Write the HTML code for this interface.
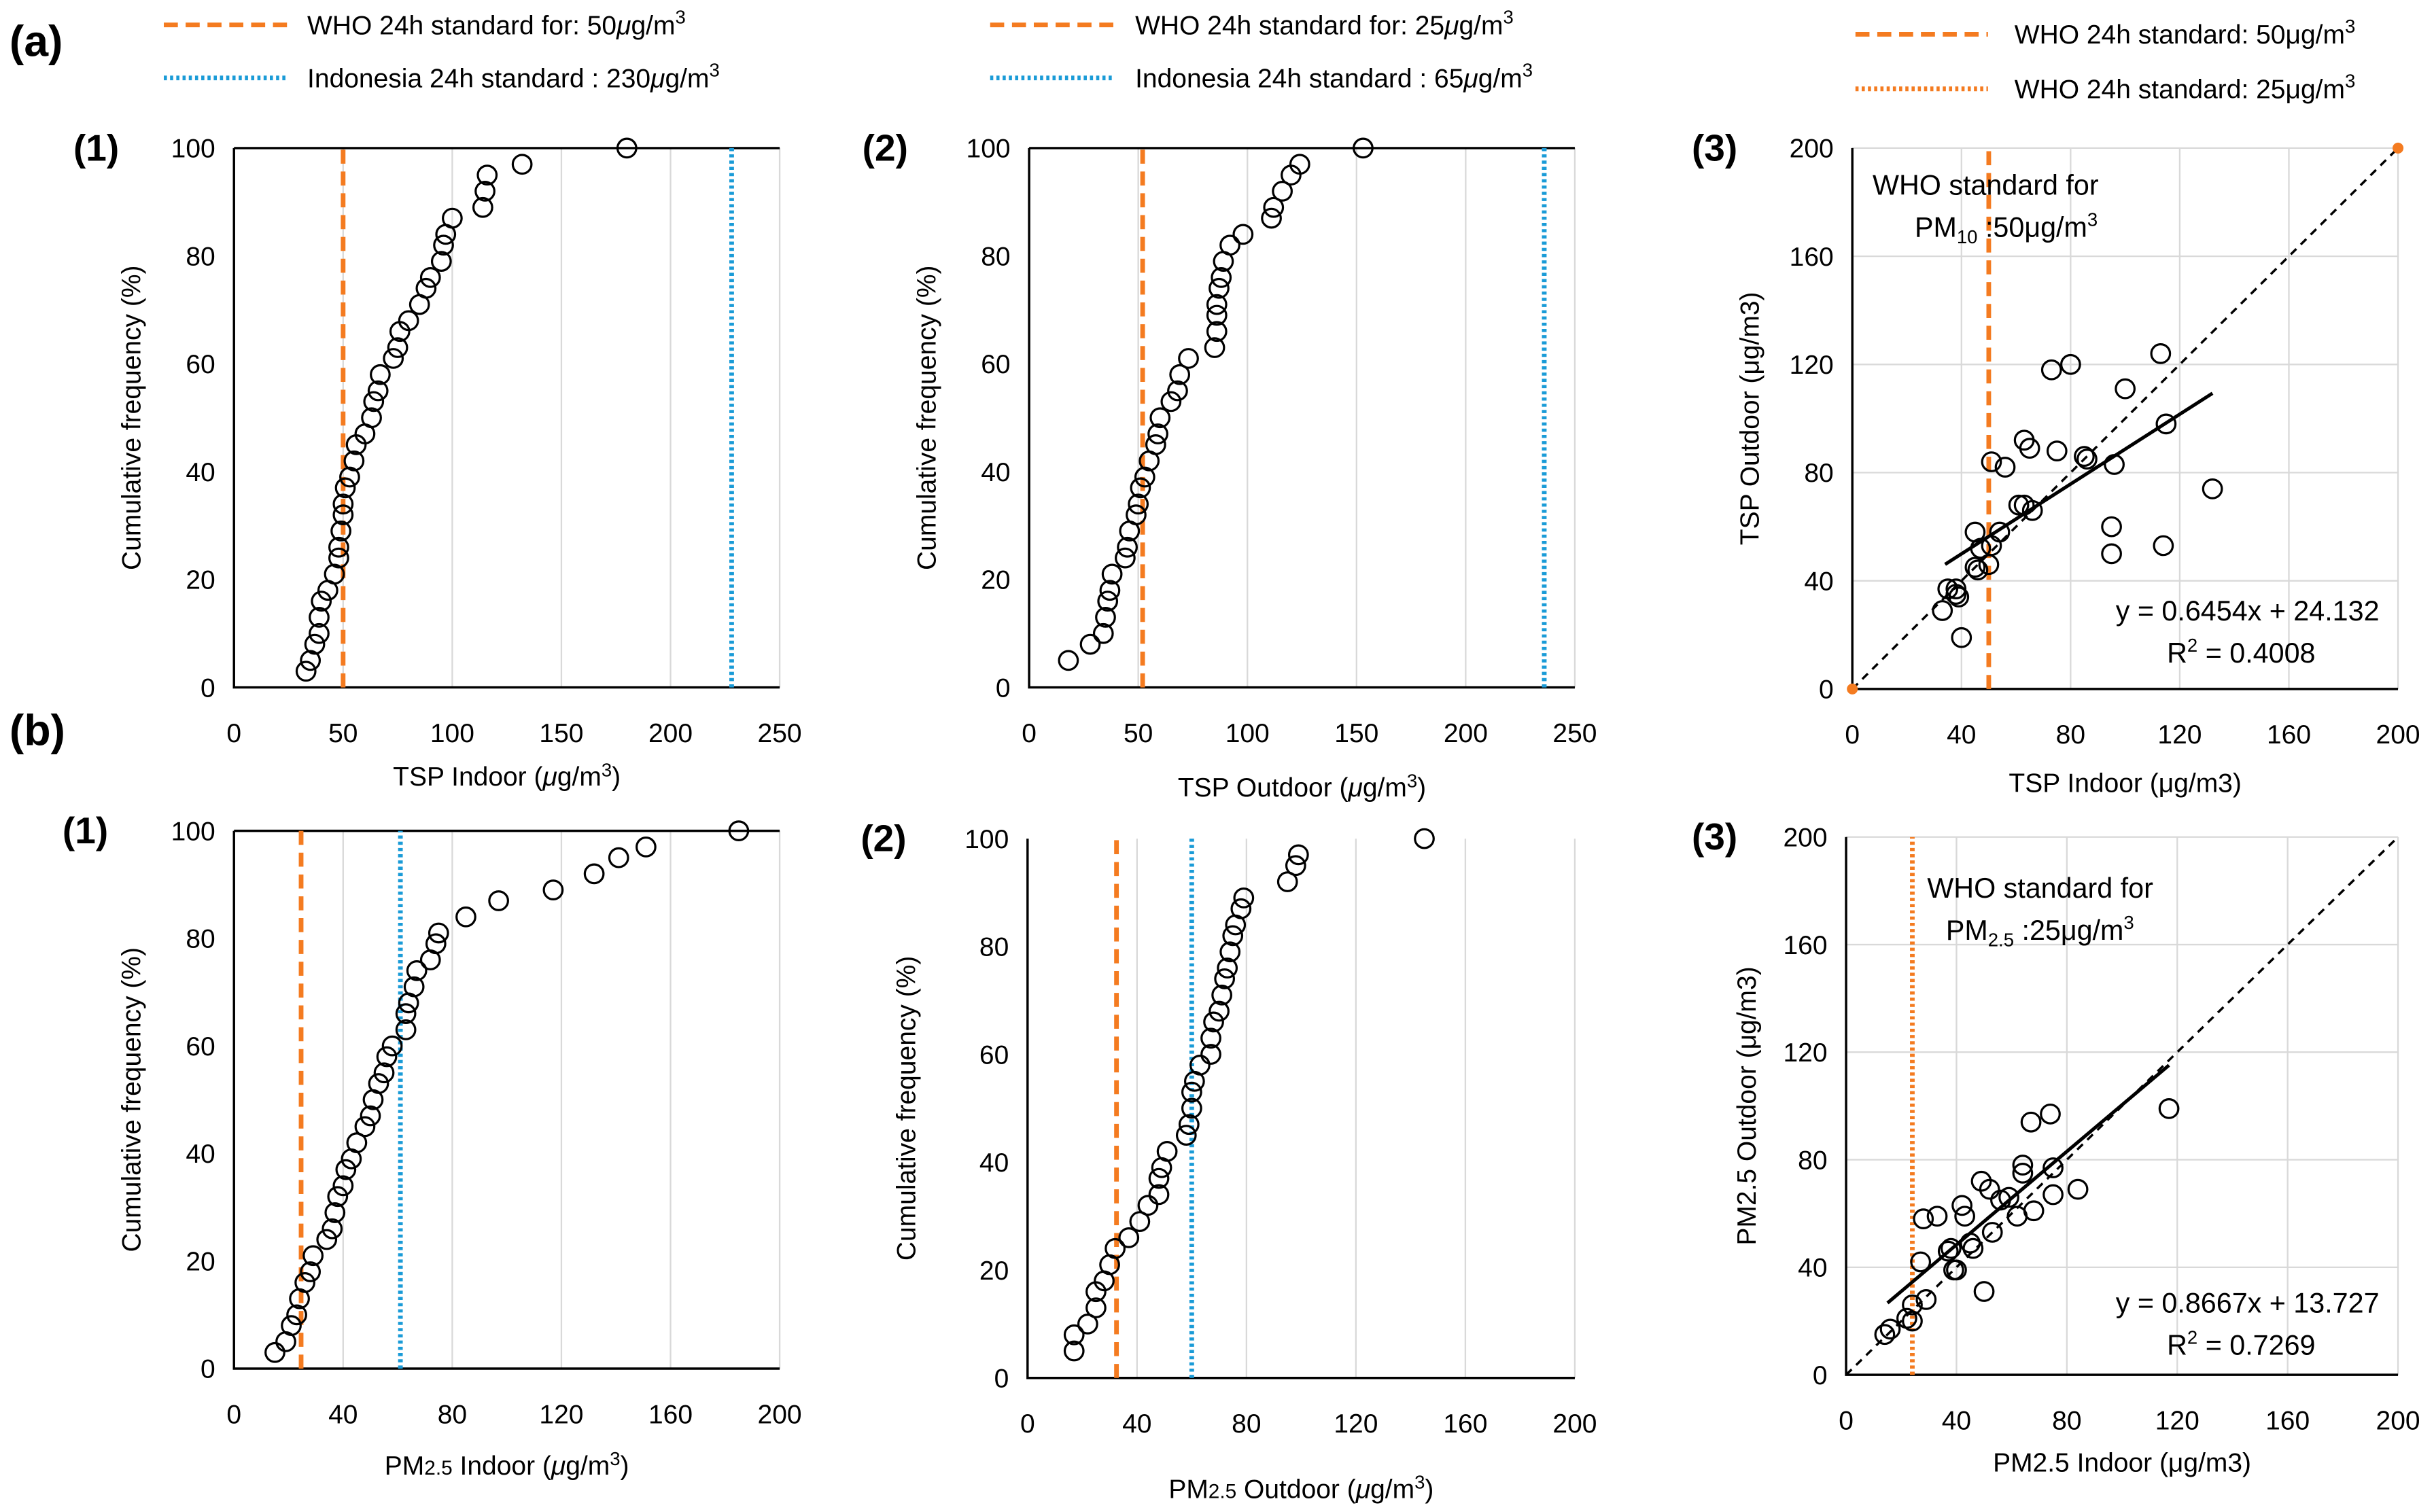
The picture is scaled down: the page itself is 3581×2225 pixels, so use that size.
<!DOCTYPE html>
<html><head><meta charset="utf-8">
<style>
html,body{margin:0;padding:0;background:#fff;}
svg{display:block;font-family:"Liberation Sans","DejaVu Sans",sans-serif;}
</style></head>
<body>
<svg id="root" width="3581" height="2225" viewBox="0 0 1561 970" xmlns="http://www.w3.org/2000/svg">
<rect width="1561" height="970" fill="#fff"/>
<g font-size="28" font-weight="bold">
<text x="6" y="36">(a)</text>
<text x="6" y="478">(b)</text>
</g>
<g font-size="17">
<line x1="105" y1="16" x2="185" y2="16" stroke="#f47b20" stroke-width="3" stroke-dasharray="9,5"/>
<text x="197" y="22">WHO 24h standard for: 50<tspan font-style="italic">μ</tspan>g/m<tspan dy="-7" font-size="12">3</tspan></text>
<line x1="105" y1="50" x2="185" y2="50" stroke="#1a9bd7" stroke-width="3" stroke-dasharray="2,2"/>
<text x="197" y="56">Indonesia 24h standard : 230<tspan font-style="italic">μ</tspan>g/m<tspan dy="-7" font-size="12">3</tspan></text>
</g>
<g font-size="17">
<line x1="635" y1="16" x2="715" y2="16" stroke="#f47b20" stroke-width="3" stroke-dasharray="9,5"/>
<text x="728" y="22">WHO 24h standard for: 25<tspan font-style="italic">μ</tspan>g/m<tspan dy="-7" font-size="12">3</tspan></text>
<line x1="635" y1="50" x2="715" y2="50" stroke="#1a9bd7" stroke-width="3" stroke-dasharray="2,2"/>
<text x="728" y="56">Indonesia 24h standard : 65<tspan font-style="italic">μ</tspan>g/m<tspan dy="-7" font-size="12">3</tspan></text>
</g>
<g font-size="17">
<line x1="1190" y1="22" x2="1275" y2="22" stroke="#f47b20" stroke-width="3" stroke-dasharray="9,5"/>
<text x="1292" y="28">WHO 24h standard: 50μg/m<tspan dy="-7" font-size="12">3</tspan></text>
<line x1="1190" y1="57" x2="1275" y2="57" stroke="#f47b20" stroke-width="3" stroke-dasharray="2,2"/>
<text x="1292" y="63">WHO 24h standard: 25μg/m<tspan dy="-7" font-size="12">3</tspan></text>
</g>
<g id="charts"></g>
</svg>
<script>
// ---- data ----
const a1X=[33,35,37,39,39,40,43,46,48,48,49,50,50,51,53,55,56,60,63,64,66,67,73,75,76,80,85,88,90,95,96,97,100,114,115,116,132,180];
const a1Y=[3,5,8,10,13,16,18,21,24,26,29,32,34,37,39,42,45,47,50,53,55,58,61,63,66,68,71,74,76,79,82,84,87,89,92,95,97,100];
const a2X=[18,28,34,35,36,37,38,44,45,46,49,50,51,53,55,58,59,60,65,68,69,73,85,86,86,86,87,88,89,92,98,111,112,116,120,124,153];
const a2Y=[5,8,10,13,16,18,21,24,26,29,32,34,37,39,42,45,47,50,53,55,58,61,63,66,69,71,74,76,79,82,84,87,89,92,95,97,100];
const b1X=[15,19,21,23,24,26,28,29,34,36,37,38,40,41,43,45,48,50,51,53,55,56,58,63,63,64,66,67,72,74,75,85,97,117,132,141,151,185];
const b1Y=[3,5,8,10,13,16,18,21,24,26,29,32,34,37,39,42,45,47,50,53,55,58,60,63,66,68,71,74,76,79,81,84,87,89,92,95,97,100];
const b2X=[17,17,22,25,25,28,30,32,37,41,44,48,48,49,51,58,59,60,60,61,63,67,67,68,70,71,72,73,74,75,76,78,79,95,98,99,145];
const b2Y=[5,8,10,13,16,18,21,24,26,29,32,34,37,39,42,45,47,50,53,55,58,60,63,66,68,71,74,76,79,82,84,87,89,92,95,97,100];
const a3X=[33,35,38,39,38,40,45,45,47,46,51,50,51,54,56,61,63,66,63,65,73,75,80,85,86,95,95,96,100,113,114,115,132];
const a3Y=[29,37,35,34,37,19,58,45,52,44,53,46,84,58,82,68,68,66,92,89,118,88,120,86,85,60,50,83,111,124,53,98,74];
const b3X=[14,16,22,24,24,27,28,29,33,37,38,39,40,42,43,45,46,49,50,52,53,56,59,62,64,64,67,68,74,75,75,84,117];
const b3Y=[15,17,21,20,26,42,58,28,59,46,47,39,39,63,59,49,47,72,31,69,53,65,66,59,75,78,94,61,97,77,67,69,99];
const xT250=[0,50,100,150,200,250];
const xT200=[0,40,80,120,160,200];
const xT200b=[0,40,80,120,160,200];
const yT100=[0,20,40,60,80,100];
const yT200=[0,40,80,120,160,200];

const NS="http://www.w3.org/2000/svg";
const root=document.getElementById('charts');
function mk(tag,parent,attrs){const e=document.createElementNS(NS,tag);for(const k in attrs)e.setAttribute(k,attrs[k]);parent.appendChild(e);return e;}

function panel(o){
  const g=mk('g',root,{});
  
  
  const sx=v=>o.x0+(v-o.xmin)/(o.xmax-o.xmin)*(o.x1-o.x0);
  const sy=v=>o.y0-(v-o.ymin)/(o.ymax-o.ymin)*(o.y0-o.y1);
  o.xt.forEach(t=>{if(t>o.xmin){const l=mk('line',g,{x1:sx(t),x2:sx(t),y1:o.y0,y2:o.y1,stroke:'#d9d9d9','stroke-width':1});
    
    }});
  if(o.hgrid) o.yt.forEach(t=>{if(t>o.ymin){const l=mk('line',g,{x1:o.x0,x2:o.x1,y1:sy(t),y2:sy(t),stroke:'#d9d9d9','stroke-width':1});
    
    }});
  if(o.topline){const l=mk('line',g,{x1:o.x0,x2:o.x1,y1:o.y1,y2:o.y1,stroke:'#000','stroke-width':1.5});
    
    }
  const ax=mk('path',g,{d:`M${o.x0},${o.y1}V${o.y0}H${o.x1}`,fill:'none',stroke:'#000','stroke-width':1.5});
  
  
  o.xt.forEach(t=>{const e=mk('text',g,{x:sx(t),y:o.y0+35,'text-anchor':'middle','font-size':17});e.textContent=t;
    
    });
  o.yt.forEach(t=>{const e=mk('text',g,{x:o.x0-12,y:sy(t)+6,'text-anchor':'end','font-size':17});e.textContent=t;
    
    });
  const xt=mk('text',g,{x:(o.x0+o.x1)/2,y:o.y0+o.xtOff,'text-anchor':'middle','font-size':17});xt.innerHTML=o.xtitle;
  
  
  const yt=mk('text',g,{x:0,y:0,'text-anchor':'middle','font-size':17,transform:`translate(${o.x0-o.ytOff},${(o.y0+o.y1)/2}) rotate(-90)`});yt.innerHTML=o.ytitle;
  
  
  const pl=mk('text',g,{x:o.plx,y:o.y1+8,'font-size':24,'font-weight':'bold'});pl.textContent=o.plabel;
  
  
  (o.vlines||[]).forEach(v=>{const l=mk('line',g,{x1:sx(v.x),x2:sx(v.x),y1:o.y0,y2:o.y1,stroke:v.c,'stroke-width':3,'stroke-dasharray':v.d});
    
    });
  if(o.diag){const l=mk('line',g,{x1:sx(0),y1:sy(0),x2:sx(200),y2:sy(200),stroke:'#000','stroke-width':1.5,'stroke-dasharray':'5,4'});
    
    }
  if(o.fit){const f=o.fit;const l=mk('line',g,{x1:sx(f.a),y1:sy(f.m*f.a+f.b),x2:sx(f.z),y2:sy(f.m*f.z+f.b),stroke:'#000','stroke-width':2.2});
    
    }
  o.X.forEach((x,i)=>{const c=mk('circle',g,{cx:sx(x),cy:sy(o.Y[i]),r:6,fill:'none',stroke:'#000','stroke-width':1.4});
    
    });
  return {g,sx,sy};
}
const lab='<tspan font-style="italic">μ</tspan>g/m<tspan dy="-6" font-size="12">3</tspan><tspan dy="6">)</tspan>';
panel({name:'panel-a1',x0:150,x1:500,y0:441,y1:95,xmin:0,xmax:250,ymin:0,ymax:100,xt:xT250,yt:yT100,topline:true,
  xtitle:'TSP Indoor ('+lab,ytitle:'Cumulative frequency (%)',xtOff:63,ytOff:60,plabel:'(1)',plx:47,X:a1X,Y:a1Y,
  vlines:[{x:50,c:'#f47b20',d:'9,5',n:'who-line'},{x:228,c:'#1a9bd7',d:'2,2',n:'indonesia-line'}]});
panel({name:'panel-a2',x0:660,x1:1010,y0:441,y1:95,xmin:0,xmax:250,ymin:0,ymax:100,xt:xT250,yt:yT100,topline:true,
  xtitle:'TSP Outdoor ('+lab,ytitle:'Cumulative frequency (%)',xtOff:70,ytOff:60,plabel:'(2)',plx:553,X:a2X,Y:a2Y,
  vlines:[{x:52,c:'#f47b20',d:'9,5',n:'who-line'},{x:236,c:'#1a9bd7',d:'2,2',n:'indonesia-line'}]});
const p3=panel({name:'panel-a3',x0:1188,x1:1538,y0:442,y1:95,xmin:0,xmax:200,ymin:0,ymax:200,xt:xT200,yt:yT200,hgrid:true,
  xtitle:'TSP Indoor (μg/m3)',ytitle:'TSP Outdoor (μg/m3)',xtOff:66,ytOff:60,plabel:'(3)',plx:1085,X:a3X,Y:a3Y,diag:true,
  fit:{m:0.6454,b:24.132,a:34,z:132},vlines:[{x:50,c:'#f47b20',d:'9,5',n:'who-line'}]});
[[1188,442],[1538,95]].forEach(p=>{const c=mk('circle',p3.g,{cx:p[0],cy:p[1],r:3.5,fill:'#f47b20'});
  
  });
panel({name:'panel-b1',x0:150,x1:500,y0:878,y1:533,xmin:0,xmax:200,ymin:0,ymax:100,xt:xT200b,yt:yT100,topline:true,
  xtitle:'PM<tspan font-size="13">2.5</tspan> Indoor ('+lab,ytitle:'Cumulative frequency (%)',xtOff:68,ytOff:60,plabel:'(1)',plx:40,X:b1X,Y:b1Y,
  vlines:[{x:24.6,c:'#f47b20',d:'9,5',n:'who-line'},{x:61,c:'#1a9bd7',d:'2,2',n:'indonesia-line'}]});
panel({name:'panel-b2',x0:659,x1:1010,y0:884,y1:538,xmin:0,xmax:200,ymin:0,ymax:100,xt:xT200b,yt:yT100,topline:false,
  xtitle:'PM<tspan font-size="13">2.5</tspan> Outdoor ('+lab,ytitle:'Cumulative frequency (%)',xtOff:77,ytOff:72,plabel:'(2)',plx:552,X:b2X,Y:b2Y,
  vlines:[{x:32.5,c:'#f47b20',d:'9,5',n:'who-line'},{x:60,c:'#1a9bd7',d:'2,2',n:'indonesia-line'}]});
panel({name:'panel-b3',x0:1184,x1:1538,y0:882,y1:537,xmin:0,xmax:200,ymin:0,ymax:200,xt:xT200,yt:yT200,hgrid:true,
  xtitle:'PM2.5 Indoor (μg/m3)',ytitle:'PM2.5 Outdoor (μg/m3)',xtOff:62,ytOff:58,plabel:'(3)',plx:1085,X:b3X,Y:b3Y,diag:true,
  fit:{m:0.8667,b:13.727,a:15,z:117},vlines:[{x:24,c:'#f47b20',d:'2,2',n:'who-line'}]});
function txt(x,y,html,name,anchor){const e=mk('text',root,{x:x,y:y,'font-size':18,'text-anchor':anchor||'start'});e.innerHTML=html;
  
  }
txt(1201,125,'WHO standard for','who-note-a3');
txt(1228,152,'PM<tspan font-size="12" dy="4">10</tspan><tspan dy="-4"> :50μg/m</tspan><tspan dy="-7" font-size="12">3</tspan>','who-note-a3-line2');
txt(1526,398,'y = 0.6454x + 24.132','equation-a3','end');
txt(1485,425,'R<tspan dy="-7" font-size="12">2</tspan><tspan dy="7"> = 0.4008</tspan>','r2-a3','end');
txt(1236,576,'WHO standard for','who-note-b3');
txt(1248,603,'PM<tspan font-size="12" dy="4">2.5</tspan><tspan dy="-4"> :25μg/m</tspan><tspan dy="-7" font-size="12">3</tspan>','who-note-b3-line2');
txt(1526,842,'y = 0.8667x + 13.727','equation-b3','end');
txt(1485,869,'R<tspan dy="-7" font-size="12">2</tspan><tspan dy="7"> = 0.7269</tspan>','r2-b3','end');
</script>
</body></html>
